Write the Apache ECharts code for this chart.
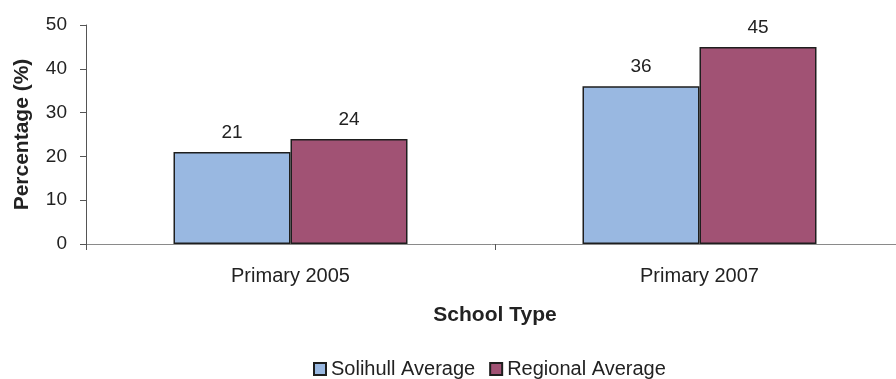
<!DOCTYPE html>
<html>
<head>
<meta charset="utf-8">
<script src="https://cdn.jsdelivr.net/npm/echarts@6/dist/echarts.min.js"></script>
<style>
  html, body { margin: 0; padding: 0; background: #fff; }
  #chart { width: 896px; height: 379px; }
</style>
</head>
<body>
<div id="chart"></div>
<script>
// School types on the category axis
var categories = ['Primary 2005', 'Primary 2007'];
// Percentages for each average
var solihull = [21, 36];
var regional = [24, 45];
// Value axis ticks
var yTicks = [0, 10, 20, 30, 40, 50];

var FONT = '"Liberation Sans", Arial, sans-serif';
var chart = echarts.init(document.getElementById('chart'), null, { renderer: 'canvas' });

var labelStyle = {
  show: true,
  position: 'top',
  distance: 10,
  color: '#222',
  fontFamily: FONT,
  fontSize: 19
};

chart.setOption({
  animation: false,
  backgroundColor: '#fff',
  grid: {
    left: 86, right: -8, top: 25, bottom: 135,
    containLabel: false,
    outerBoundsMode: 'none'
  },
  legend: {
    left: 308,
    top: 354,
    padding: 5,
    itemWidth: 12,
    itemHeight: 12,
    itemGap: 14,
    icon: 'rect',
    textStyle: { color: '#222', fontFamily: FONT, fontSize: 20 },
    data: ['Solihull Average', 'Regional Average']
  },
  xAxis: {
    type: 'category',
    data: categories,
    name: 'School Type',
    nameLocation: 'middle',
    nameGap: 61,
    nameTextStyle: { color: '#222', fontFamily: FONT, fontSize: 21, fontWeight: 'bold' },
    axisLine: { lineStyle: { color: '#8a8a8a', width: 1 } },
    axisTick: { show: true, length: 6, lineStyle: { color: '#555' } },
    axisLabel: { color: '#222', fontFamily: FONT, fontSize: 20, margin: 22 },
    splitLine: { show: false }
  },
  yAxis: {
    type: 'value',
    min: yTicks[0],
    max: yTicks[yTicks.length - 1],
    interval: yTicks[1] - yTicks[0],
    name: 'Percentage (%)',
    nameLocation: 'middle',
    nameGap: 53,
    nameTextStyle: { color: '#222', fontFamily: FONT, fontSize: 21, fontWeight: 'bold' },
    axisLine: { show: true, lineStyle: { color: '#555', width: 1 } },
    axisTick: { show: true, length: 6, lineStyle: { color: '#555' } },
    axisLabel: { color: '#222', fontFamily: FONT, fontSize: 19, margin: 19 },
    splitLine: { show: false }
  },
  series: [
    {
      name: 'Solihull Average',
      type: 'bar',
      data: solihull,
      barWidth: 117,
      barGap: '0%',
      itemStyle: { color: '#99b8e1', borderColor: '#1e1e1e', borderWidth: 1.5 },
      label: labelStyle
    },
    {
      name: 'Regional Average',
      type: 'bar',
      data: regional,
      barWidth: 117,
      barGap: '0%',
      itemStyle: { color: '#a15274', borderColor: '#1e1e1e', borderWidth: 1.5 },
      label: labelStyle
    }
  ]
});
</script>
</body>
</html>
